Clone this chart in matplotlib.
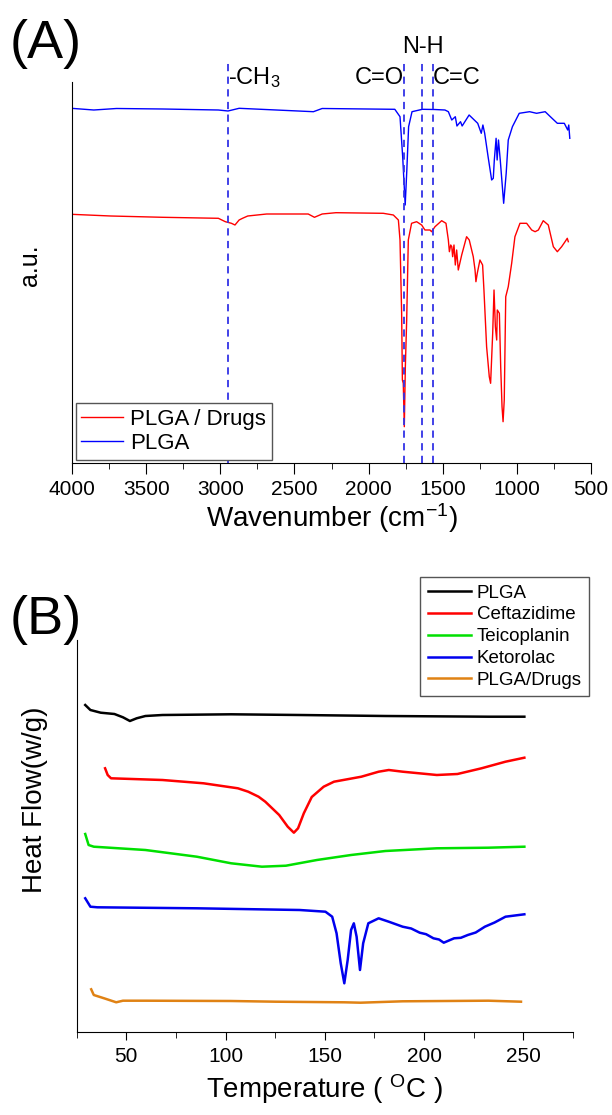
import numpy as np
import matplotlib
matplotlib.use("Agg")
import matplotlib.pyplot as plt

plt.rcParams['font.family'] = ['Liberation Sans', 'DejaVu Sans']
plt.rcParams['mathtext.fontset'] = 'custom'
plt.rcParams['mathtext.rm'] = 'Liberation Sans'
plt.rcParams['mathtext.it'] = 'Liberation Sans:italic'

# ---- (A) FTIR spectra, wavenumber (cm-1) vs a.u. ----
plga_wn = [4005, 3853, 3700, 3387, 3013, 2948, 2873, 2372, 2313, 1823, 1788, 1770,
           1753, 1742, 1730, 1707, 1637, 1555, 1485, 1462, 1439, 1415, 1404, 1380,
           1369, 1322, 1264, 1240, 1229, 1217, 1194, 1170, 1159, 1152, 1140, 1133,
           1124, 1112, 1089, 1072, 1058, 1030, 984, 914, 867, 809, 774, 727, 680,
           657, 650, 643]
plga_au = [354.7, 353, 354.5, 354, 353, 352, 354.7, 351.3, 354.5, 353.7, 346.3, 306.3,
           258, 293, 336.3, 351.3, 353.7, 353.5, 353, 351.3, 343, 346.3, 337, 341.3,
           337, 348, 339.7, 329.7, 338, 329.7, 306.3, 283, 284.7, 303, 324.7, 303,
           323, 303, 259.7, 289.7, 323, 336.3, 349.7, 351.3, 349.7, 351.3, 346.3,
           339.7, 339.7, 333, 338, 324.7]

drug_wn = [4005, 3739, 3387, 3013, 2966, 2925, 2901, 2873, 2850, 2815, 2687, 2407,
           2365, 2313, 2220, 1901, 1833, 1799, 1788, 1784, 1777, 1772, 1766, 1759,
           1752, 1743, 1732, 1710, 1676, 1642, 1620, 1586, 1575, 1552, 1507, 1478,
           1462, 1455, 1446, 1439, 1433, 1424, 1415, 1406, 1395, 1372, 1339, 1321,
           1294, 1282, 1276, 1267, 1249, 1231, 1222, 1204, 1186, 1177, 1163, 1154,
           1145, 1136, 1132, 1118, 1109, 1100, 1093, 1085, 1075, 1058, 1035, 1013,
           979, 934, 900, 877, 855, 822, 788, 754, 727, 698, 675, 660, 653]
drug_au = [248.7, 247, 245.7, 244.7, 241.3, 239.7, 238, 243, 244.7, 247, 249, 249,
           245.7, 249, 250.3, 249.7, 248, 243, 223, 196.3, 149.7, 83, 79.7, 36.3,
           96.3, 143, 223, 239.7, 241.3, 238, 233, 233, 231.3, 236.3, 242.3, 239.7,
           223, 211.3, 218, 216.3, 206.3, 218, 198, 213, 193, 208, 226.3, 223,
           206.3, 193, 181.3, 189.7, 203, 198, 173, 116.3, 86.3, 79.7, 129.7, 173,
           136.3, 123, 153, 149.7, 96.3, 56.3, 41.3, 63, 166.3, 176.3, 199.7, 226.3,
           239.7, 239.7, 233, 231.3, 233, 242.3, 238, 216.3, 211.3, 216.3, 221.3,
           224.7, 221.3]

band_wn = [2947, 1760, 1637, 1566]

# ---- (B) DSC curves, temperature (C) vs heat flow (a.u.) ----
dsc_names = ['PLGA', 'Ceftazidime', 'Teicoplanin', 'Ketorolac', 'PLGA/Drugs']
dsc_colors = ['#000000', '#ff0000', '#00e000', '#0000ee', '#e08214']

plga_T = [29.3, 31.9, 37.1, 44.0, 48.3, 51.8, 55.2, 59.6, 68.2, 102.8, 137.3, 180.5, 232.4, 250.5]
plga_hf = [327, 322, 319.3, 318, 314.7, 311, 313.7, 316, 317, 317.7, 317, 316, 315.3, 315.3]

cef_T = [39.3, 40.6, 42.3, 68.2, 88.9, 106.2, 111.4, 116.6, 120.0, 127.0, 131.3, 134.4,
         136.5, 139.4, 143.4, 149.4, 154.6, 168.4, 177.1, 182.2, 189.2, 206.4, 216.8,
         228.9, 241.0, 250.5]
cef_hf = [263.7, 257, 253.7, 252, 248.7, 243.7, 240.3, 235.3, 230.3, 217, 205.3, 199.3,
          203.7, 218.7, 235, 245.3, 250.3, 255.3, 260.3, 262, 260.3, 257, 258,
          263.7, 270.3, 274.3]

tei_T = [29.3, 31.0, 33.6, 59.6, 85.5, 102.8, 118.3, 130.4, 146.0, 163.2, 180.5, 206.4, 232.4, 250.5]
tei_hf = [198, 187, 185.3, 182, 175.3, 168.7, 165.3, 166.3, 172, 177, 181, 183.7, 184.3, 185.3]

ket_T = [29.3, 31.9, 35.4, 85.5, 137.3, 150.3, 153.7, 155.9, 158.0, 159.8, 161.5, 163.2,
         164.6, 166.0, 167.7, 169.3, 171.9, 177.1, 182.2, 189.2, 193.5, 197.8, 201.0,
         204.7, 207.5, 209.9, 212.5, 215.1, 218.5, 222.0, 226.0, 230.6, 235.5, 241.0, 250.5]
ket_hf = [133.7, 125.3, 124.7, 123.7, 122, 120.3, 115.3, 98.7, 68.7, 48.7, 72, 102,
          108.7, 95.3, 62, 88.7, 108.7, 113.7, 110.3, 105.3, 103.5, 99.3, 97.8,
          93.7, 92.5, 89.3, 91.5, 93.7, 94.2, 97, 99.5, 105.3, 109.5, 115.3, 117.7]

mix_T = [32.3, 33.6, 38.8, 44.9, 48.3, 59.6, 102.8, 125.2, 159.8, 168.0, 189.2, 232.4, 248.8]
mix_hf = [42.7, 37, 33.7, 29.7, 31.3, 31.3, 31, 30.3, 29.7, 29.3, 30.7, 31.3, 30.3]

dsc_T = [plga_T, cef_T, tei_T, ket_T, mix_T]
dsc_hf = [plga_hf, cef_hf, tei_hf, ket_hf, mix_hf]

W, H = 612, 1115
fig = plt.figure(figsize=(W / 100, H / 100), dpi=100)

# panel A
axA = fig.add_axes([72 / W, 1 - 463 / H, 519 / W, 401 / H])
axA.plot(drug_wn, drug_au, color='#ff0000', lw=1.0, label='PLGA / Drugs')
axA.plot(plga_wn, plga_au, color='#0000ff', lw=1.0, label='PLGA')
for wn in band_wn:
    axA.axvline(wn, ymin=0, ymax=1, color='#3333e6', lw=1.3, ls=(0, (4, 3)))
axA.set_xlim(4000, 500)
axA.set_ylim(0, 401)
axA.set_xticks(np.arange(4000, 499, -500))
axA.set_xticks(np.arange(3750, 500, -500), minor=True)
axA.set_yticks([])
axA.spines['top'].set_visible(False)
axA.spines['right'].set_visible(False)
axA.spines['left'].set_bounds(0, 381)
axA.tick_params(axis='x', which='major', direction='out', length=8, labelsize=15, pad=4)
axA.tick_params(axis='x', which='minor', direction='out', length=4)
axA.set_xlabel('Wavenumber (cm$^{-1}$)', fontsize=20, labelpad=2)
axA.legend(loc='lower left', bbox_to_anchor=(0.007, 0.008), borderaxespad=0,
           fontsize=16, handlelength=1.9, handletextpad=0.3, fancybox=False,
           edgecolor='#555555', framealpha=1, borderpad=0.25, labelspacing=0.15)
axA.text(2947, 398, '-CH$_3$', fontsize=17, ha='left', va='top')
axA.text(1760, 396, 'C=O', fontsize=17, ha='right', va='top')
axA.text(1630, 416, 'N-H', fontsize=17, ha='center', va='center', clip_on=False)
axA.text(1566, 396, 'C=C', fontsize=17, ha='left', va='top')
fig.text(30 / W, 1 - 265 / H, 'a.u.', fontsize=18, rotation=90, ha='center', va='center')
fig.text(10 / W, 1 - 44 / H, '(A)', fontsize=39, ha='left', va='center')

# panel B
axB = fig.add_axes([76.7 / W, 1 - 1032 / H, 496.3 / W, 392 / H])
for T, hf, name, c in zip(dsc_T, dsc_hf, dsc_names, dsc_colors):
    axB.plot(T, hf, color=c, lw=1.8, label=name)
axB.set_xlim(25, 275)
axB.set_ylim(0, 392)
axB.set_xticks([50, 100, 150, 200, 250])
axB.set_xticks([25, 75, 125, 175, 225, 275], minor=True)
axB.set_yticks([])
axB.spines['top'].set_visible(False)
axB.spines['right'].set_visible(False)
axB.tick_params(axis='x', which='major', direction='out', length=6, labelsize=15, pad=5)
axB.tick_params(axis='x', which='minor', direction='out', length=4)
axB.set_xlabel('Temperature ( $^{\\mathrm{O}}$C )', fontsize=20, labelpad=4)
fig.legend(*axB.get_legend_handles_labels(), loc='upper right',
           bbox_to_anchor=(589 / W, 1 - 577 / H), borderaxespad=0, fontsize=13.5,
           handlelength=2.3, handletextpad=0.3, fancybox=False, edgecolor='#555555',
           framealpha=1, borderpad=0.4, labelspacing=0.25)
fig.text(35 / W, 1 - 800 / H, 'Heat Flow(w/g)', fontsize=20, rotation=90, ha='center', va='center')
fig.text(10 / W, 1 - 620 / H, '(B)', fontsize=39, ha='left', va='center')

fig.savefig('out.png', dpi=100)
